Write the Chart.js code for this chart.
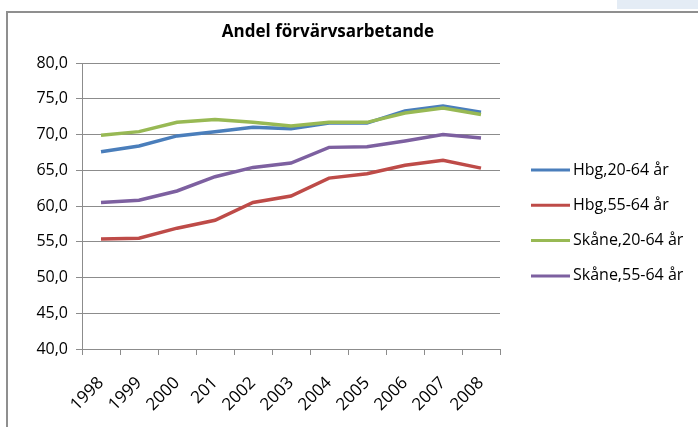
<!DOCTYPE html>
<html>
<head>
<meta charset="utf-8">
<script src="https://cdn.jsdelivr.net/npm/chart.js@4/dist/chart.umd.min.js"></script>
<style>
    html, body { margin: 0; padding: 0; background: #fff; }
    #wrap { position: relative; width: 698px; height: 427px; overflow: hidden; }
    #ram { position: absolute; left: 6px; top: 11px; width: 900px; height: 600px;
           border-left: 2px solid #8f8f8f; border-top: 2px solid #8f8f8f; }
    #flik { position: absolute; left: 617px; top: 0; width: 81px; height: 9px; background: #e4ecf5; }
    canvas { position: absolute; left: 0; top: 0; }
</style>
</head>
<body>
<div id="wrap">
    <div id="flik"></div>
    <div id="ram"></div>
    <canvas id="andelChart" width="698" height="427"></canvas>
</div>
<script>
// Data
const titel = 'Andel förvärvsarbetande';
const ar = ['1998', '1999', '2000', '201', '2002', '2003', '2004', '2005', '2006', '2007', '2008'];
const serieNamn = ['Hbg,20-64 år', 'Hbg,55-64 år', 'Skåne,20-64 år', 'Skåne,55-64 år'];
const hbg2064 = [67.6, 68.4, 69.8, 70.4, 71.0, 70.8, 71.6, 71.6, 73.3, 74.0, 73.1];
const hbg5564 = [55.4, 55.5, 56.9, 58.0, 60.5, 61.4, 63.9, 64.5, 65.7, 66.4, 65.3];
const skane2064 = [69.9, 70.4, 71.7, 72.1, 71.7, 71.2, 71.7, 71.7, 73.0, 73.7, 72.8];
const skane5564 = [60.5, 60.8, 62.1, 64.1, 65.4, 66.0, 68.2, 68.3, 69.1, 70.0, 69.5];
const yMin = 40, yMax = 80, ySteg = 5;

const farger = ['#4a7ebb', '#be4b48', '#98b954', '#7d60a0'];
const typsnitt = "'Open Sans', sans-serif";

// Titel och förklaring ritas här (samma placering som i Excel-bilden)
const textPlugin = {
    id: 'textPlugin',
    afterDraw(chart) {
        const ctx = chart.ctx;
        ctx.save();
        ctx.fillStyle = '#000';
        ctx.textBaseline = 'middle';
        ctx.textAlign = 'center';
        ctx.font = 'bold 17px ' + typsnitt;
        ctx.fillText(titel, 328, 32);

        ctx.font = '16px ' + typsnitt;
        ctx.textAlign = 'left';
        chart.data.datasets.forEach((ds, i) => {
            const y = 170 + i * 35.3;
            ctx.strokeStyle = ds.borderColor;
            ctx.lineWidth = 3;
            ctx.beginPath();
            ctx.moveTo(531, y);
            ctx.lineTo(570, y);
            ctx.stroke();
            ctx.fillText(ds.label, 573, y);
        });
        ctx.restore();
    }
};

const allaSerier = [hbg2064, hbg5564, skane2064, skane5564];

new Chart(document.getElementById('andelChart').getContext('2d'), {
    type: 'line',
    data: {
        labels: ar,
        datasets: allaSerier.map((s, i) => ({
            label: serieNamn[i],
            data: s,
            borderColor: farger[i],
            backgroundColor: farger[i],
            borderWidth: 3.5,
            pointRadius: 0,
            tension: 0,
            order: 4 - i
        }))
    },
    options: {
        responsive: false,
        animation: false,
        devicePixelRatio: 1,
        layout: {
            padding: { left: 0, top: 63, right: 198, bottom: 0 }
        },
        plugins: {
            legend: { display: false },
            title: { display: false },
            tooltip: { enabled: false }
        },
        scales: {
            y: {
                min: yMin,
                max: yMax,
                afterFit: function (scale) { scale.width = 82; },
                ticks: {
                    stepSize: ySteg,
                    color: '#000',
                    font: { family: typsnitt, size: 16 },
                    padding: 8,
                    callback: function (v) { return v.toFixed(1).replace('.', ','); }
                },
                grid: { color: '#8c8c8c', tickLength: 6, lineWidth: 1 },
                border: { color: '#8c8c8c' }
            },
            x: {
                offset: true,
                afterFit: function (scale) { scale.height = 78; },
                ticks: {
                    color: '#000',
                    font: { family: typsnitt, size: 17 },
                    minRotation: 45,
                    maxRotation: 45,
                    autoSkip: false,
                    padding: 18
                },
                grid: { offset: true, drawOnChartArea: false, tickLength: 6, color: '#8c8c8c' },
                border: { color: '#8c8c8c' }
            }
        }
    },
    plugins: [textPlugin]
});
</script>
</body>
</html>
